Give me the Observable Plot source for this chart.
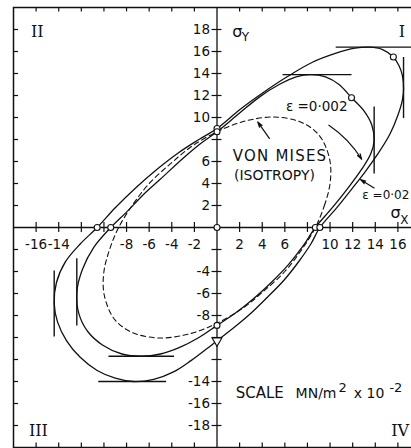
<!DOCTYPE html>
<html>
<head>
<meta charset="utf-8">
<script src="https://cdn.jsdelivr.net/npm/d3@7"></script>
<script src="https://cdn.jsdelivr.net/npm/@observablehq/plot@0.6"></script>
<style>
  html, body { margin: 0; padding: 0; overflow: hidden; background: #fff; }
  #chart svg { max-width: none !important; }
</style>
</head>
<body>
<div id="chart"></div>
<script>
// Yield loci in the σX–σY plane (scale MN/m² × 10⁻²)

// Tick positions and the labels printed along the centre axes
const axisTicks = d3.range(-18, 19, 2).filter(d => d !== 0);
const xTickLabels = [-16, -14, -8, -6, -4, -2, 2, 4, 6, 10, 12, 14, 16];
const yTickLabels = [18, 16, 14, 12, 10, 6, 4, 2, -4, -6, -8, -14, -16, -18];

// Yield locus at strain ε = 0.02 (outer curve)
const locusStrain002 = [
  [9.1, 0], [10.6, 1.8], [12.0, 3.6], [13.2, 5.2], [14.3, 6.8], [15.3, 8.5],
  [16.0, 10.2], [16.4, 11.6], [16.5, 12.6], [16.4, 13.8], [16.1, 14.7], [15.6, 15.5],
  [14.6, 16.2], [13.5, 16.4], [12.2, 16.3], [10.4, 15.8], [8.4, 15.0], [6.2, 13.7],
  [4.0, 12.2], [2.0, 10.7], [0, 9.0], [-1.6, 8.0], [-3.4, 6.8], [-5.3, 5.3],
  [-7.2, 3.6], [-9.0, 1.8], [-10.6, 0], [-12.1, -1.5], [-13.4, -3.1], [-14.2, -5.0],
  [-14.4, -6.9], [-14.1, -8.6], [-13.3, -10.3], [-12.1, -11.8], [-10.6, -13.0], [-9.0, -13.7],
  [-7.4, -14.0], [-5.6, -13.8], [-3.8, -13.1], [-2.3, -12.1], [-1.0, -11.1], [0, -10.3],
  [1.5, -9.1], [3.0, -7.8], [4.5, -6.3], [6.0, -4.7], [7.3, -3.0], [8.3, -1.5]
];

// Yield locus at strain ε = 0.002 (inner curve)
const locusStrain0002 = [
  [8.7, 0], [10.2, 1.8], [11.6, 3.6], [12.8, 5.3], [13.6, 6.7], [13.9, 7.9],
  [13.7, 9.3], [13.0, 10.6], [11.9, 11.8], [10.8, 13.0], [9.6, 13.7], [8.3, 13.9],
  [7.0, 13.7], [5.5, 13.0], [3.8, 11.9], [2.0, 10.4], [0, 8.7], [-1.5, 7.6],
  [-3.0, 6.3], [-5.0, 4.4], [-6.5, 3.0], [-8.0, 1.4], [-9.4, 0], [-10.9, -1.8],
  [-11.9, -3.8], [-12.4, -5.9], [-12.2, -7.9], [-11.4, -9.5], [-10.1, -10.7], [-8.4, -11.5],
  [-6.7, -11.7], [-5.0, -11.5], [-3.3, -10.9], [-1.6, -10.0], [0, -8.9], [1.6, -7.8],
  [3.2, -6.5], [4.8, -5.0], [6.3, -3.4], [7.6, -1.7]
];

// Von Mises ellipse for an isotropic material (dashed)
const vonMisesLocus = [
  [8.7, 0], [9.5, 2], [10.0, 4], [10.0, 6], [9.3, 8], [8.4, 9],
  [7.1, 9.7], [5.0, 10.05], [3.0, 9.8], [1.6, 9.4], [0, 8.7], [-2.2, 7.4],
  [-4.0, 5.9], [-6.0, 4.0], [-7.5, 2.0], [-8.7, 0], [-9.5, -2], [-10.0, -4],
  [-10.0, -6], [-9.3, -8], [-8.4, -9], [-7.1, -9.7], [-5.0, -10.05], [-3.0, -9.8],
  [-1.6, -9.4], [0, -8.7], [2.2, -7.4], [4.0, -5.9], [6.0, -4.0], [7.5, -2.0]
];

// Tangents marking the extreme stresses of each locus
const extremeTangents = [
  {x1: 10.5, y1: 16.4, x2: 17.4, y2: 16.4},
  {x1: 16.5, y1: 9.95, x2: 16.5, y2: 15.5},
  {x1: -14.4, y1: -3.9, x2: -14.4, y2: -9.9},
  {x1: -10.5, y1: -14.0, x2: -4.5, y2: -14.0},
  {x1: 5.8, y1: 13.9, x2: 11.9, y2: 13.9},
  {x1: 13.9, y1: 4.9, x2: 13.9, y2: 11.0},
  {x1: -12.4, y1: -2.8, x2: -12.4, y2: -8.9},
  {x1: -9.6, y1: -11.7, x2: -3.8, y2: -11.7}
];

// Measured yield points
const circlePoints = [
  [0, 0], [15.6, 15.5], [11.9, 11.8], [0, 9.0], [0, 8.7],
  [8.7, 0], [9.1, 0], [-10.6, 0], [-9.4, 0], [0, -8.9]
];
const trianglePoints = [[0, -10.3]];

// Annotation arrows: ε = 0.002 pointer, von Mises pointer, ε = 0.02 pointer
const arrowStrain0002 = [{x1: 9.9, y1: 9.3, x2: 12.8, y2: 6.2}];
const arrowVonMises = [{x1: 4.63, y1: 8.1, x2: 3.6, y2: 9.6}];
const arrowStrain002 = [{x1: 13.9, y1: 3.6, x2: 12.7, y2: 4.35}];

const quadrantLabels = ["I", "II", "III", "IV"];

const ink = "#111";
const serif = "DejaVu Serif";
const arrowStyle = {x1: "x1", y1: "y1", x2: "x2", y2: "y2", stroke: ink, strokeWidth: 1.2, headLength: 7, headAngle: 32};

const chart = Plot.plot({
  width: 426,
  height: 450,
  marginLeft: 13,
  marginRight: 6,
  marginTop: 7,
  marginBottom: 3,
  x: {domain: [-18, 18], axis: null},
  y: {domain: [-20, 20], axis: null},
  style: {fontFamily: "DejaVu Sans", fontSize: "13.5px", background: "#fff", color: ink, maxWidth: "none"},
  marks: [
    Plot.frame({stroke: ink, strokeWidth: 1.5}),
    // ticks on the frame
    Plot.ruleY(axisTicks, {y: d => d, x1: -18, x2: -17.55, stroke: ink, strokeWidth: 1.2}),
    Plot.ruleX(axisTicks.filter(d => d > -18), {x: d => d, y1: 20, y2: 19.6, stroke: ink, strokeWidth: 1.2}),
    Plot.ruleX(axisTicks.filter(d => d > -18), {x: d => d, y1: -20, y2: -19.6, stroke: ink, strokeWidth: 1.2}),
    // centre axes with crossing ticks
    Plot.ruleX([0], {stroke: ink, strokeWidth: 1.3}),
    Plot.ruleY([0], {stroke: ink, strokeWidth: 1.3}),
    Plot.ruleX(axisTicks.filter(d => d > -18), {x: d => d, y1: -0.45, y2: 0.45, stroke: ink, strokeWidth: 1.2}),
    Plot.ruleY(axisTicks, {y: d => d, x1: -0.44, x2: 0.44, stroke: ink, strokeWidth: 1.2}),
    Plot.text(xTickLabels, {x: d => d, y: 0, dy: 17, text: d => String(d), fill: ink}),
    Plot.text(yTickLabels, {x: 0, y: d => d, dx: -7, textAnchor: "end", text: d => String(d), fill: ink}),
    // loci
    Plot.line(vonMisesLocus, {x: d => d[0], y: d => d[1], curve: "catmull-rom-closed",
      stroke: ink, strokeWidth: 1.1, strokeDasharray: "5,3.5"}),
    Plot.line(locusStrain0002, {x: d => d[0], y: d => d[1], curve: "catmull-rom-closed",
      stroke: ink, strokeWidth: 1.3}),
    Plot.line(locusStrain002, {x: d => d[0], y: d => d[1], curve: "catmull-rom-closed",
      stroke: ink, strokeWidth: 1.3}),
    Plot.link(extremeTangents, {x1: "x1", y1: "y1", x2: "x2", y2: "y2", stroke: ink, strokeWidth: 1.4}),
    Plot.dot(circlePoints, {x: d => d[0], y: d => d[1], r: 3, fill: "#fff", stroke: ink, strokeWidth: 1.1}),
    Plot.dot(trianglePoints, {x: d => d[0], y: d => d[1], symbol: "triangle", r: 3.6, rotate: 180,
      fill: "#fff", stroke: ink, strokeWidth: 1.1}),
    Plot.arrow(arrowStrain0002, {...arrowStyle, bend: 12}),
    Plot.arrow(arrowVonMises, {...arrowStyle}),
    Plot.arrow(arrowStrain002, {...arrowStyle}),
    // annotations
    Plot.text(["ε =0·002"], {x: 6.1, y: 10.95, textAnchor: "start", fontSize: 13.5, fill: ink}),
    Plot.text(["ε =0·02"], {x: 12.85, y: 2.95, textAnchor: "start", fontSize: 12, fill: ink}),
    Plot.text(["VON MISES"], {x: 1.4, y: 6.5, textAnchor: "start", fontSize: 15, fill: ink}),
    Plot.text(["(ISOTROPY)"], {x: 1.5, y: 4.75, textAnchor: "start", fontSize: 14, fill: ink}),
    Plot.text(["σ"], {x: 1.35, y: 17.8, textAnchor: "start", fontSize: 16, fill: ink}),
    Plot.text(["Y"], {x: 2.2, y: 17.3, textAnchor: "start", fontSize: 12, fill: ink}),
    Plot.text(["σ"], {x: 15.35, y: 1.3, textAnchor: "start", fontSize: 16, fill: ink}),
    Plot.text(["X"], {x: 16.2, y: 0.7, textAnchor: "start", fontSize: 12, fill: ink}),
    Plot.text(["SCALE"], {x: 1.65, y: -15.05, textAnchor: "start", fontSize: 15, fill: ink}),
    Plot.text(["MN/m"], {x: 6.95, y: -15.05, textAnchor: "start", fontSize: 14, fill: ink}),
    Plot.text(["2"], {x: 10.75, y: -14.55, textAnchor: "start", fontSize: 13, fill: ink}),
    Plot.text(["x 10"], {x: 12.1, y: -15.05, textAnchor: "start", fontSize: 14, fill: ink}),
    Plot.text(["-2"], {x: 15.25, y: -14.55, textAnchor: "start", fontSize: 13, fill: ink}),
    // quadrant numbers
    Plot.text([quadrantLabels[0]], {x: 16.35, y: 17.8, fontFamily: serif, fontSize: 16, fill: ink}),
    Plot.text([quadrantLabels[1]], {x: -15.9, y: 17.8, fontFamily: serif, fontSize: 16, fill: ink}),
    Plot.text([quadrantLabels[2]], {x: -15.8, y: -18.5, fontFamily: serif, fontSize: 16, fill: ink}),
    Plot.text([quadrantLabels[3]], {x: 16.2, y: -18.5, fontFamily: serif, fontSize: 16, fill: ink})
  ]
});

// letter spacing for the wide-set annotation text
d3.select(chart).selectAll("text")
  .filter(function () { return this.textContent === "VON MISES"; })
  .attr("letter-spacing", "1.2px");

document.getElementById("chart").appendChild(chart);
</script>
</body>
</html>
